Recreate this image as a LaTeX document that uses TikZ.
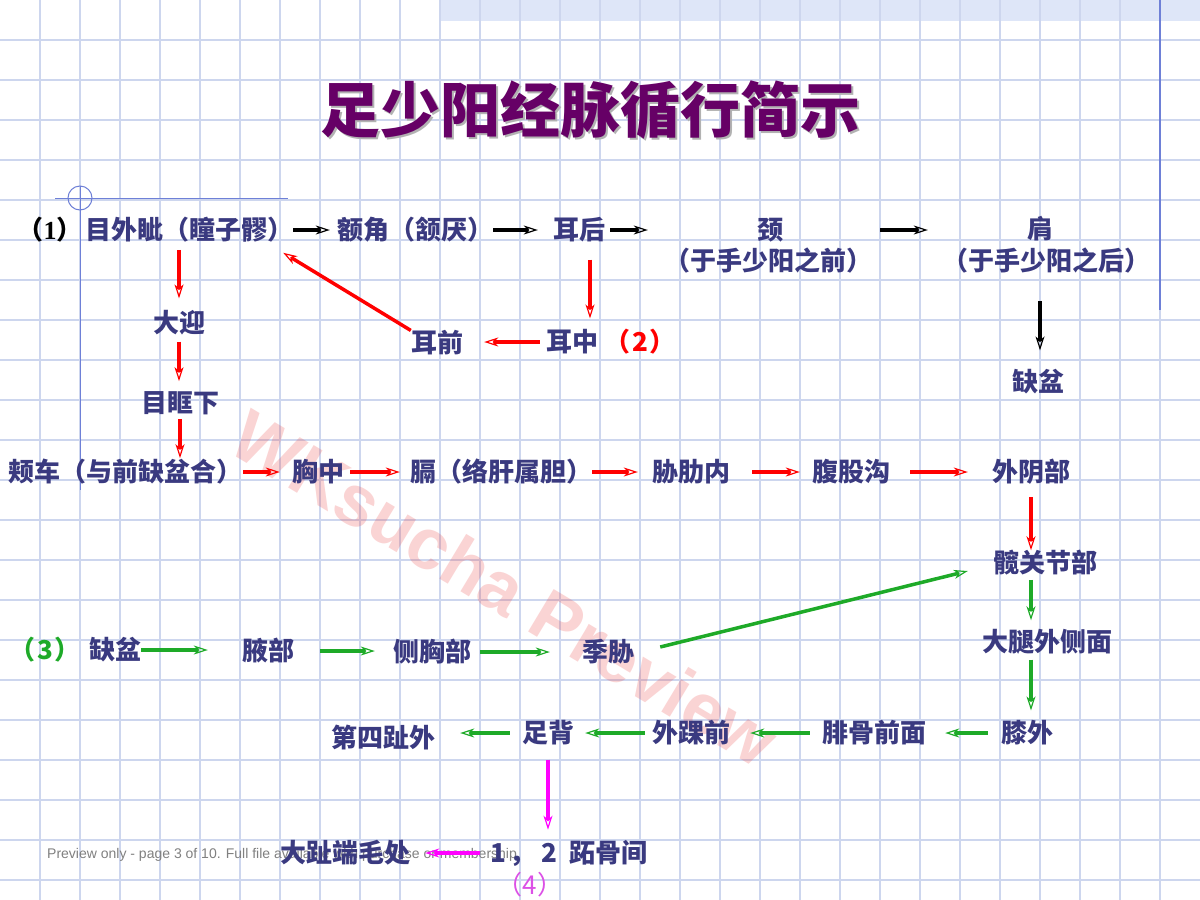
\documentclass[tikz,border=0pt]{standalone}
\usepackage{fontspec}
\setmainfont{Liberation Sans}
\newfontfamily\cjk{Noto Sans CJK SC}
\newfontfamily\sernum{Liberation Serif}
\usetikzlibrary{arrows.meta,calc}
\definecolor{txt}{RGB}{58,58,128}
\definecolor{gridc}{RGB}{205,214,238}
\definecolor{bandc}{RGB}{222,230,248}
\definecolor{margc}{RGB}{110,128,215}
\definecolor{ttl}{RGB}{102,0,102}
\definecolor{grn}{RGB}{30,170,40}
\definecolor{mag}{RGB}{255,0,255}
\definecolor{magl}{RGB}{220,80,230}
\definecolor{wmk}{RGB}{235,60,60}
\begin{document}
\begin{tikzpicture}[x=1pt,y=-1pt,
  lbl/.style={inner sep=0pt, text=txt, font=\cjk\bfseries\fontsize{26}{30}\selectfont},
  tipstyle/.style={-{Stealth[open,length=14pt,width=9pt,inset=4pt,line width=1.2pt]}},
  blk/.style={tipstyle, line width=4pt, draw=black},
  redarr/.style={tipstyle, line width=3.5pt, draw=red},
  grnarr/.style={tipstyle, line width=3.5pt, draw=grn},
  magarr/.style={tipstyle, line width=3.5pt, draw=mag},
  gridline/.style={draw=gridc, line width=1.6pt}
]
\useasboundingbox (0,0) rectangle (1200,900);
\fill[white] (0,0) rectangle (1200,900);
% top band
\fill[bandc] (440,0) rectangle (1200,21);
% grid
\foreach \gx in {40,80,...,1160} { \draw[gridline] (\gx,0) -- (\gx,900); }
\foreach \gy in {40,80,...,880} { \draw[gridline] (0,\gy) -- (1200,\gy); }
% margin decorations
\draw[margc, line width=2pt] (1160,0) -- (1160,310);
\draw[margc, line width=1pt] (80,186) -- (80,490);
\draw[margc, line width=1pt] (55,198) -- (288,198);
\draw[margc, line width=1pt] (80,198) circle (12);
% watermark and footer
\node[rotate=-31, text=wmk, opacity=0.22, font=\bfseries\fontsize{72}{72}\selectfont] (wm) at (505,588) {WKsucha Preview};
\node[anchor=west, inner sep=0pt, text=gray, font=\fontsize{14}{14}\selectfont] (foot) at (47,855) {Preview only - page 3 of 10. Full file available with purchase or membership.};
% title
\node[text=gray!60, font=\cjk\bfseries\fontsize{60}{62}\selectfont] (ttlsh) at (592,112) {足少阳经脉循行简示};
\node[text=ttl, font=\cjk\bfseries\fontsize{60}{62}\selectfont] (title) at (590,110) {足少阳经脉循行简示};
% row 1
\node[lbl, text=black] (p1) at (50,230) {（{\sernum\bfseries 1}）};
\node[lbl] (n1) at (189,230) {目外眦（瞳子髎）};
\node[lbl] (n2) at (415,230) {额角（颔厌）};
\node[lbl] (er) at (579,230) {耳后};
\node[lbl] (neck) at (770,230) {颈};
\node[lbl] (neckn) at (768,261) {（于手少阳之前）};
\node[lbl] (sho) at (1040,229) {肩};
\node[lbl] (shon) at (1046,261) {（于手少阳之后）};
% upper branch
\node[lbl] (dy) at (179,323) {大迎};
\node[lbl] (mk) at (180,403) {目眶下};
\node[lbl] (ez) at (572,342) {耳中};
\node[lbl, text=red] (p2) at (640,342) {（\hspace{2pt}2\hspace{2pt}）};
\node[lbl] (eq) at (437,343) {耳前};
\node[lbl] (qp) at (1038,382) {缺盆};
% row 2
\node[lbl] (jc) at (126,472) {颊车（与前缺盆合）};
\node[lbl] (xz) at (318,472) {胸中};
\node[lbl] (ge) at (501,472) {膈（络肝属胆）};
\node[lbl] (xl) at (691,472) {胁肋内};
\node[lbl] (fg) at (851,472) {腹股沟};
\node[lbl] (wy) at (1031,472) {外阴部};
\node[lbl] (kg) at (1045,563) {髋关节部};
% row 3
\node[lbl, text=grn] (p3) at (45,650) {（\hspace{2pt}3\hspace{2pt}）};
\node[lbl] (qp2) at (115,650) {缺盆};
\node[lbl] (ye) at (268,651) {腋部};
\node[lbl] (cx) at (432,652) {侧胸部};
\node[lbl] (jx) at (608,652) {季胁};
\node[lbl] (dt) at (1047,642) {大腿外侧面};
% row 4
\node[lbl] (xw) at (1027,733) {膝外};
\node[lbl] (fgq) at (874,733) {腓骨前面};
\node[lbl] (whq) at (691,733) {外踝前};
\node[lbl] (zb) at (548,733) {足背};
\node[lbl] (dsz) at (383,737) {第四趾外};
% row 5
\node[lbl] (gj) at (569,853) {1\hspace{4pt}，\hspace{6pt}2\hspace{12pt}跖骨间};
\node[lbl] (dz) at (345,853) {大趾端毛处};
\node[lbl, text=magl, font=\cjk\fontsize{26}{30}\selectfont] (p4) at (530,885) {（4）};
% connectors row 1
\draw[blk, shorten >=7pt] (n1.east) -- (n1.east -| n2.west);
\draw[blk, shorten >=15pt] (n2.east) -- (n2.east -| er.west);
\draw[blk, shorten <=5pt, shorten >=109pt] (er.east) -- (er.east -| neck.west);
\draw[blk, shorten <=97pt, shorten >=99pt] (neck.east) -- (neck.east -| sho.west);
% red branch
\draw[redarr, shorten <=7pt, shorten >=12pt] (n1.south -| dy.north) -- (dy.north);
\draw[redarr, shorten <=6pt, shorten >=10pt] (dy.south) -- (dy.south |- mk.north);
\draw[redarr, shorten <=4pt, shorten >=1pt] (mk.south) -- (mk.south |- jc.north);
\draw[redarr, shorten >=12pt] (jc.east) -- (jc.east -| xz.west);
\draw[redarr, shorten <=6pt, shorten >=10pt] (xz.east) -- (xz.east -| ge.west);
\draw[redarr, shorten >=14pt] (ge.east) -- (ge.east -| xl.west);
\draw[redarr, shorten <=22pt, shorten >=12pt] (xl.east) -- (xl.east -| fg.west);
\draw[redarr, shorten <=20pt, shorten >=24pt] (fg.east) -- (fg.east -| wy.west);
\draw[redarr, shorten <=12pt] (wy.south) -- (wy.south |- kg.north);
\draw[redarr, shorten <=17pt, shorten >=11pt] ([xshift=11pt]er.south) -- ([xshift=11pt]er.south |- ez.north);
\draw[redarr, shorten <=6pt, shorten >=21pt] (ez.west) -- (ez.west -| eq.east);
\draw[redarr] (eq.north west) -- ([shift={(-10,10)}]n1.south east);
% shoulder
\draw[blk, shorten <=27pt, shorten >=19pt] (shon.south -| sho.south) -- (sho.south |- qp.north);
% green
\draw[grnarr, shorten >=34pt] (qp2.east) -- (qp2.east -| ye.west);
\draw[grnarr, shorten <=26pt, shorten >=18pt] (ye.east) -- (ye.east -| cx.west);
\draw[grnarr, shorten <=9pt, shorten >=32pt] (cx.east) -- (cx.east -| jx.west);
\draw[grnarr] ([shift={(26,-5)}]jx.east) -- ([shift={(-25,8)}]kg.west);
\draw[grnarr, shorten <=4pt, shorten >=9pt] (wy.south |- kg.south) -- (wy.south |- dt.north);
\draw[grnarr, shorten <=5pt, shorten >=10pt] (wy.south |- dt.south) -- (wy.south |- xw.north);
\draw[grnarr, shorten <=13pt, shorten >=19pt] (xw.west) -- (xw.west -| fgq.east);
\draw[grnarr, shorten <=12pt, shorten >=20pt] (fgq.west) -- (fgq.west -| whq.east);
\draw[grnarr, shorten <=7pt, shorten >=11pt] (whq.west) -- (whq.west -| zb.east);
\draw[grnarr, shorten <=12pt, shorten >=25pt] (zb.west) -- (zb.west -| dsz.east);
% magenta
\draw[magarr, shorten <=14pt, shorten >=10pt] (zb.south) -- (zb.south |- gj.north);
\draw[magarr, shorten <=10pt, shorten >=15pt] (gj.west) -- (gj.west -| dz.east);
\end{tikzpicture}
\end{document}
